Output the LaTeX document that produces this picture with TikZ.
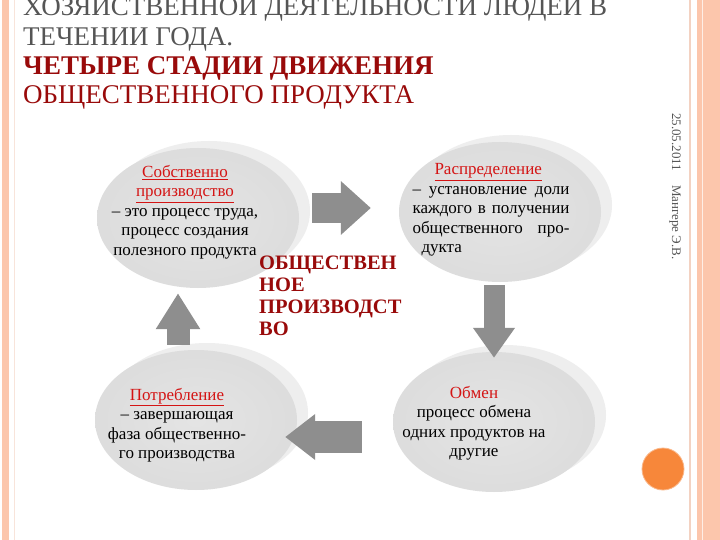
\documentclass[tikz,border=0pt]{standalone}
\usepackage{fontspec}
\setmainfont{Liberation Serif}
\usepackage{xcolor}
\usepackage{tikz}
\usetikzlibrary{
  arrows.meta,
  calc,
  shapes.geometric,
  shadows
}
\definecolor{bandorange}{HTML}{FCC6AC}
\definecolor{paleline}{HTML}{F3D2C2}
\definecolor{dotorange}{HTML}{F7873A}
\definecolor{titlegray}{HTML}{555555}
\definecolor{titlered}{HTML}{990A0A}
\definecolor{headred}{HTML}{D41414}
\definecolor{arrowgray}{HTML}{8E8E8E}

\begin{document}
\begin{tikzpicture}[x=1pt, y=-1pt, >=Stealth,
    disc/.style={ellipse, minimum width=202pt, minimum height=140pt, inner sep=0pt,
      inner color=gray!21, outer color=gray!27,
      copy shadow={shadow xshift=11pt, shadow yshift=7pt, fill=gray!13, draw=none}},
    disctext/.style={align=center, font=\fontsize{17}{19.5}\selectfont, text=black},
    blockarrow/.style={draw=arrowgray, line width=#1},
    blockarrow/.default=30pt] % 单位: 1pt = 1 像素

    % 1. 页面边框
    \clip (0,0) rectangle (720,540);
    \fill[white] (0,0) rectangle (720,540);
    \fill[bandorange] (2,0) rectangle (9,540);
    \draw[paleline!60, line width=0.8pt] (14,0) -- (14,540);
    \draw[paleline, line width=1.5pt] (690,0) -- (690,540);
    \fill[bandorange] (697,0) rectangle (720,540);
    \draw[white!70!bandorange, line width=0.6pt] (702,0) -- (702,540);

    % 2. 标题
    \node[anchor=base west, inner sep=0pt, text=titlegray, font=\fontsize{27}{29}\selectfont]
        (title1) at (23,16) {ХОЗЯЙСТВЕННОЙ ДЕЯТЕЛЬНОСТИ ЛЮДЕЙ В};
    \node[anchor=base west, inner sep=0pt, text=titlegray, font=\fontsize{27}{29}\selectfont]
        (title2) at (23,46) {ТЕЧЕНИИ ГОДА.};
    \node[anchor=base west, inner sep=0pt, text=titlered, font=\fontsize{27}{29}\selectfont\bfseries]
        (title3) at (23,75) {ЧЕТЫРЕ СТАДИИ ДВИЖЕНИЯ};
    \node[anchor=base west, inner sep=0pt, text=titlered, font=\fontsize{27}{29}\selectfont]
        (title4) at (23,104) {ОБЩЕСТВЕННОГО ПРОДУКТА};

    % 3. 四个圆盘
    \node[disc] (prod) at (198,218) {};
    \node[disc] (distr) at (500,212) {};
    \node[disc] (cons) at (196,420) {};
    \node[disc] (exch) at (494,422) {};

    % 4. 箭头 (循环)
    \draw[blockarrow, -{Triangle[width=52pt, length=30pt]}]
        ([shift={(13,-10)}]prod.east) -- ([shift={(-28,-4)}]distr.west);
    \draw[blockarrow=21pt, -{Triangle[width=40pt, length=30pt]}]
        ([shift={(-6,3)}]distr.south) -- ([shift={(0,6)}]exch.north);
    \draw[blockarrow=32pt, -{Triangle[width=44pt, length=30pt]}]
        ([shift={(-31,15)}]exch.west) -- ([shift={(-12,17)}]cons.east);
    \draw[blockarrow=23pt, -{Triangle[width=42pt, length=36pt]}]
        ([shift={(-18,-5)}]cons.north) -- ([shift={(-20,5)}]prod.south);

    % 5. 圆盘内文字
    \node[disctext] (prodtext) at (185,212)
        {\textcolor{headred}{\underline{Собственно}}\\
         \textcolor{headred}{\underline{производство}}\\
         – это процесс труда,\\процесс создания\\полезного продукта};
    \node[disctext, align=left] (distrtext) at (491,210)
        {\hspace*{22pt}\textcolor{headred}{\underline{Распределение}}\\
         \makebox[157pt][s]{– установление доли}\\
         \makebox[157pt][s]{каждого в получении}\\
         \makebox[157pt][s]{общественного про-}\\
         \hspace*{9pt}дукта};
    \node[disctext] (constext) at (177,425)
        {\textcolor{headred}{\underline{Потребление}}\\
         – завершающая\\фаза общественно-\\го производства};
    \node[disctext] (exchtext) at (474,423)
        {\textcolor{headred}{Обмен}\\процесс обмена\\одних продуктов на\\другие};

    % 6. 中间文字
    \node[anchor=north west, inner sep=0pt, align=left, text=titlered,
          font=\fontsize{20.5}{22}\selectfont\bfseries]
        (center) at (259,256) {ОБЩЕСТВЕН\\НОЕ\\ПРОИЗВОДСТ\\ВО};

    % 7. 页脚 (竖排) 和橙色圆点
    \node[anchor=base west, inner sep=0pt, rotate=-90, text=titlegray,
          font=\fontsize{13}{14}\selectfont]
        (footer) at (672,113) {25.05.2011\hspace{14pt}Мангере Э.В.};
    \fill[dotorange, draw=dotorange!60, line width=0.8pt] (663,469) circle (21);

\end{tikzpicture}
\end{document}
